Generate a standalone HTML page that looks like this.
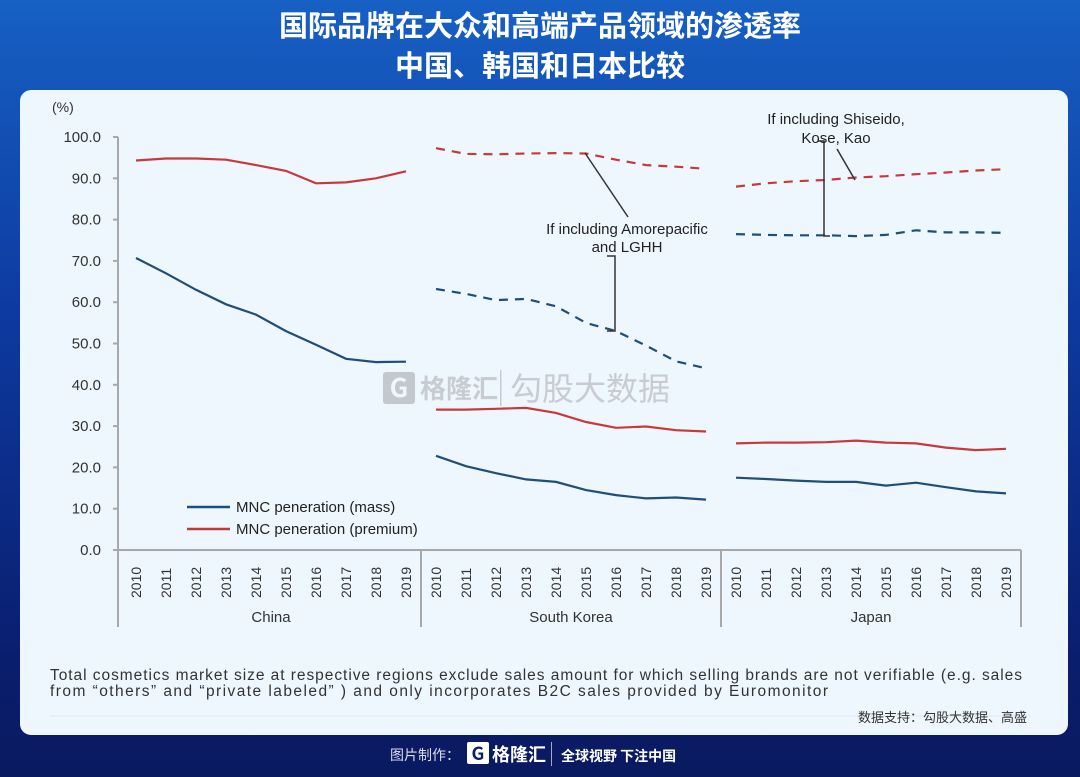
<!DOCTYPE html>
<html><head><meta charset="utf-8"><style>
html,body{margin:0;padding:0;width:1080px;height:777px;overflow:hidden}
body{background:linear-gradient(180deg,#1760c4 0%,#0d3aa0 40%,#0a1e6e 85%,#0a1a60 100%);font-family:"Liberation Sans","Noto Sans CJK SC",sans-serif}
</style></head><body>
<svg id="s" width="1080" height="777" xmlns="http://www.w3.org/2000/svg" style="position:absolute;left:0;top:0">
<text x="540" y="36" text-anchor="middle" fill="#fff" font-size="29" font-weight="bold" font-family="Noto Sans CJK SC,sans-serif">国际品牌在大众和高端产品领域的渗透率</text>
<text x="540" y="76" text-anchor="middle" fill="#fff" font-size="29" font-weight="bold" font-family="Noto Sans CJK SC,sans-serif">中国、韩国和日本比较</text>
<rect x="20" y="90" width="1048" height="645" rx="11" fill="#eef6fe"/>
<g font-family="Noto Sans CJK SC,sans-serif" fill="#c8ccd2">
<rect x="383" y="372" width="32" height="32" rx="3" fill="#c3c8cf"/>
<text x="399" y="397" text-anchor="middle" fill="#eef6fe" font-size="26" font-weight="bold">G</text>
<text x="420" y="398" font-size="26" font-weight="bold">格隆汇</text>
<rect x="500" y="370" width="1.5" height="36"/>
<text x="510" y="400" font-size="32">勾股大数据</text>
</g>
<text x="52" y="112" font-size="14" fill="#333">(%)</text>
<g id="ax" stroke="#a8a8a8" stroke-width="2" fill="none"></g>
<g id="yl" font-size="15" fill="#333" text-anchor="end"></g>
<g id="xl" font-size="14" fill="#333"></g>
<g id="ser" fill="none" stroke-width="2.2"></g>
<g stroke="#333" stroke-width="1.5" fill="none">
<line x1="585" y1="153" x2="628" y2="217"/>
<polyline points="607,256 615,256 615,331 607,331"/>
<polyline points="818,141 824,141 824,236 830,236"/>
<line x1="837" y1="149" x2="855" y2="180"/>
</g>
<g font-size="15" fill="#222" text-anchor="middle">
<text x="627" y="234">If including Amorepacific</text>
<text x="627" y="252">and LGHH</text>
<text x="836" y="124">If including Shiseido,</text>
<text x="836" y="143">Kose, Kao</text>
</g>
<line x1="187" y1="507" x2="230" y2="507" stroke="#1f4e79" stroke-width="2.5"/>
<line x1="187" y1="529" x2="230" y2="529" stroke="#c0393b" stroke-width="2.5"/>
<text x="236" y="512" font-size="15" fill="#222">MNC peneration (mass)</text>
<text x="236" y="534" font-size="15" fill="#222">MNC peneration (premium)</text>
<text x="50" y="680" font-size="15.5" fill="#333" textLength="972" lengthAdjust="spacing">Total cosmetics market size at respective regions exclude sales amount for which selling brands are not verifiable (e.g. sales</text>
<text x="50" y="696" font-size="15.5" fill="#333" textLength="778" lengthAdjust="spacing">from “others” and “private labeled” ) and only incorporates B2C sales provided by Euromonitor</text>
<line x1="50" y1="716" x2="1030" y2="716" stroke="#e2e8ef"/>
<text x="1027" y="722" text-anchor="end" font-size="13" fill="#333" font-family="Noto Sans CJK SC,sans-serif">数据支持：勾股大数据、高盛</text>
<g font-family="Noto Sans CJK SC,sans-serif" fill="#fff">
<text x="390" y="760" font-size="14" fill="#dde">图片制作：</text>
<rect x="467" y="742" width="22" height="22" rx="2"/>
<text x="478" y="760" text-anchor="middle" fill="#0a1e6e" font-size="18" font-weight="bold">G</text>
<text x="492" y="761" font-size="18" font-weight="bold">格隆汇</text>
<rect x="551" y="742" width="1" height="24" fill="#aab"/>
<text x="561" y="761" font-size="14" font-weight="bold">全球视野 下注中国</text>
</g>
</svg>
<script>
var NS="http://www.w3.org/2000/svg";
function el(p,t,a,txt){var e=document.createElementNS(NS,t);for(var k in a)e.setAttribute(k,a[k]);if(txt!=null)e.textContent=txt;document.getElementById(p).appendChild(e);return e;}
function Y(v){return 550-4.13*v;}
el("ax","line",{x1:118,y1:137,x2:118,y2:627});
el("ax","line",{x1:114,y1:550,x2:1021,y2:550});
el("ax","line",{x1:421,y1:550,x2:421,y2:627});
el("ax","line",{x1:721,y1:550,x2:721,y2:627});
el("ax","line",{x1:1021,y1:550,x2:1021,y2:627});
for(var v=0;v<=100;v+=10){el("ax","line",{x1:113,y1:Y(v),x2:118,y2:Y(v)});el("yl","text",{x:101,y:Y(v)+5},v.toFixed(1));}
var starts=[136,436,736],names=["China","South Korea","Japan"];
for(var g=0;g<3;g++){for(var i=0;i<10;i++){var x=starts[g]+30*i;el("xl","text",{transform:"translate("+(x+5)+",598) rotate(-90)"},String(2010+i));}
el("xl","text",{x:starts[g]+135,y:622,"text-anchor":"middle","font-size":15},names[g]);}
function line(g,d,c,dash){var p=d.map(function(v,i){return (starts[g]+30*i)+","+Y(v).toFixed(1)}).join(" ");var a={points:p,stroke:c};if(dash)a["stroke-dasharray"]="9,7";el("ser","polyline",a);}
var R="#c8393b",B="#1f4e79";
line(0,[94.3,94.8,94.8,94.5,93.2,91.8,88.8,89,90,91.7],R);
line(0,[70.7,67,63,59.5,57,53,49.7,46.3,45.5,45.6],B);
line(1,[34,34,34.2,34.4,33.2,31,29.6,29.9,29,28.7],R);
line(1,[22.8,20.3,18.6,17.1,16.5,14.5,13.3,12.5,12.7,12.2],B);
line(1,[97.3,95.9,95.8,96,96.1,96,94.5,93.2,92.8,92.3],R,1);
line(1,[63.2,62,60.5,60.8,59,55,53,49.5,45.7,44],B,1);
line(2,[25.8,26,26,26.1,26.5,26,25.8,24.8,24.2,24.5],R);
line(2,[17.5,17.2,16.8,16.5,16.5,15.6,16.3,15.2,14.2,13.7],B);
line(2,[88,88.8,89.3,89.6,90.2,90.5,91,91.4,91.9,92.2],R,1);
line(2,[76.5,76.3,76.2,76.2,76,76.3,77.4,76.9,76.9,76.8],B,1);
</script>
</body></html>
